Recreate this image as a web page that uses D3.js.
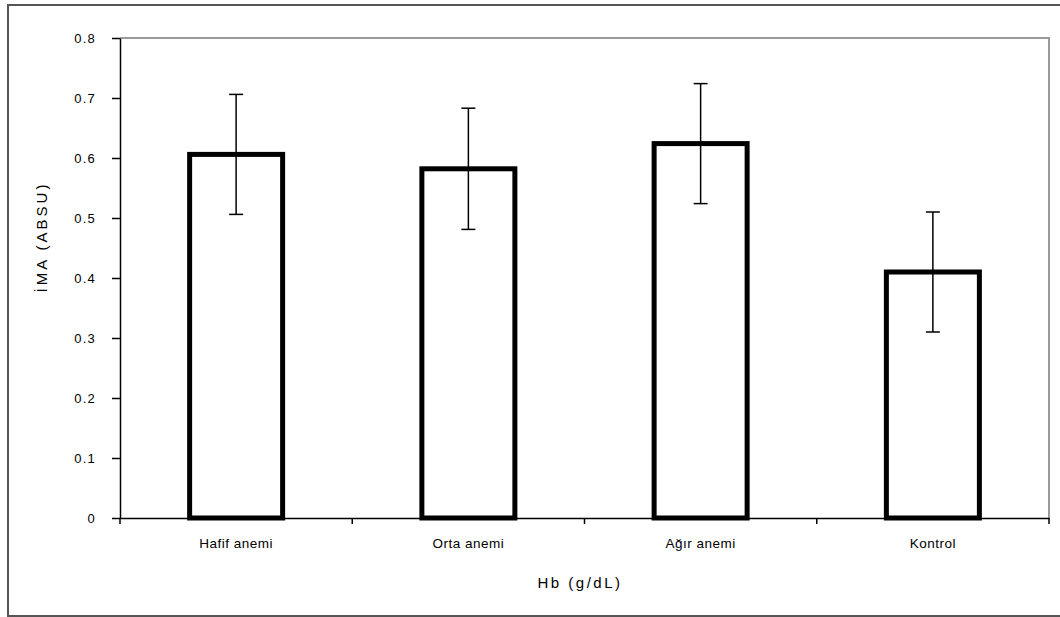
<!DOCTYPE html>
<html>
<head>
<meta charset="utf-8">
<script src="https://cdn.jsdelivr.net/npm/d3@7"></script>
<style>
  body { margin: 0; background: #fff; }
  text { font-family: "Liberation Sans", Arial, sans-serif; fill: #000; }
</style>
</head>
<body>
<div id="chart"></div>
<script>
const categories = ['Hafif anemi', 'Orta anemi', 'Ağır anemi', 'Kontrol'];
const values = [0.606, 0.582, 0.624, 0.41];
const errors = [0.1, 0.101, 0.1, 0.1];
const yTicks = [0, 0.1, 0.2, 0.3, 0.4, 0.5, 0.6, 0.7, 0.8];

const width = 1060;
const height = 617;
const margin = {top: 38, right: 11, bottom: 99, left: 120};

const svg = d3.select('#chart')
  .append('svg')
  .attr('width', width)
  .attr('height', height);

// outer frame (right edge falls off the picture)
svg.append('rect')
  .attr('x', 8)
  .attr('y', 5)
  .attr('width', 1070)
  .attr('height', 611)
  .attr('fill', 'none')
  .attr('stroke', '#555')
  .attr('stroke-width', 2);

const x = d3.scaleBand()
  .domain(categories)
  .range([margin.left, width - margin.right])
  .paddingInner(0)
  .paddingOuter(0);

const y = d3.scaleLinear()
  .domain([0, 0.8])
  .range([height - margin.bottom, margin.top]);

// plot area border (top and right, gray)
svg.append('path')
  .attr('d', `M${x.range()[0]},${y(0.8)}H${x.range()[1]}V${y(0)}`)
  .attr('fill', 'none')
  .attr('stroke', '#999')
  .attr('stroke-width', 2);

const barW = 93;

svg.append('g')
  .selectAll('rect')
  .data(categories)
  .join('rect')
  .attr('x', d => x(d) + x.bandwidth() / 2 - barW / 2)
  .attr('y', (d, i) => y(values[i]))
  .attr('width', barW)
  .attr('height', (d, i) => y(0) - y(values[i]))
  .attr('fill', '#fff')
  .attr('stroke', '#000')
  .attr('stroke-width', 5);

// error bars
const err = svg.append('g')
  .attr('stroke', '#000')
  .attr('stroke-width', 1.5)
  .selectAll('g')
  .data(categories)
  .join('g')
  .attr('transform', d => `translate(${x(d) + x.bandwidth() / 2},0)`);

err.append('line')
  .attr('y1', (d, i) => y(values[i] + errors[i]))
  .attr('y2', (d, i) => y(values[i] - errors[i]));

err.append('line')
  .attr('x1', -7).attr('x2', 7)
  .attr('y1', (d, i) => y(values[i] + errors[i]))
  .attr('y2', (d, i) => y(values[i] + errors[i]));

err.append('line')
  .attr('x1', -7).attr('x2', 7)
  .attr('y1', (d, i) => y(values[i] - errors[i]))
  .attr('y2', (d, i) => y(values[i] - errors[i]));

const yAxis = g => g
  .attr('transform', `translate(${margin.left},0)`)
  .call(d3.axisLeft(y).tickValues(yTicks).tickFormat(d => d === 0 ? '0' : d3.format('.1f')(d)).tickSize(8).tickSizeOuter(0).tickPadding(16))
  .call(h => h.selectAll('line, path').attr('stroke', '#000').attr('stroke-width', 1.5))
  .call(h => h.selectAll('text').attr('font-size', 13).attr('letter-spacing', 1.2).attr('font-family', '"Liberation Sans", Arial, sans-serif').attr('fill', '#000'));

const xAxis = g => g
  .attr('transform', `translate(0,${y(0)})`)
  .call(d3.axisBottom(x).tickSize(0).tickSizeOuter(0).tickPadding(20))
  .call(h => h.select('.domain').attr('stroke', '#000').attr('stroke-width', 1.5))
  .call(h => h.selectAll('text').attr('font-size', 13.5).attr('letter-spacing', 0.5).attr('font-family', '"Liberation Sans", Arial, sans-serif').attr('fill', '#000'));

svg.append('g').call(xAxis);

// tick marks at category boundaries
svg.append('g')
  .selectAll('line')
  .data(categories.concat(['end']))
  .join('line')
  .attr('x1', (d, i) => i < categories.length ? x(d) : x.range()[1])
  .attr('x2', (d, i) => i < categories.length ? x(d) : x.range()[1])
  .attr('y1', y(0))
  .attr('y2', y(0) + 6)
  .attr('stroke', '#000')
  .attr('stroke-width', 1.5);

svg.append('g').call(yAxis);

svg.append('text')
  .attr('x', 580)
  .attr('y', 588)
  .attr('text-anchor', 'middle')
  .attr('font-size', 15)
  .attr('letter-spacing', 2.5)
  .text('Hb (g/dL)');

svg.append('text')
  .attr('transform', 'translate(47,237) rotate(-90)')
  .attr('text-anchor', 'middle')
  .attr('font-size', 15)
  .attr('letter-spacing', 3)
  .text('İMA (ABSU)');
</script>
</body>
</html>
